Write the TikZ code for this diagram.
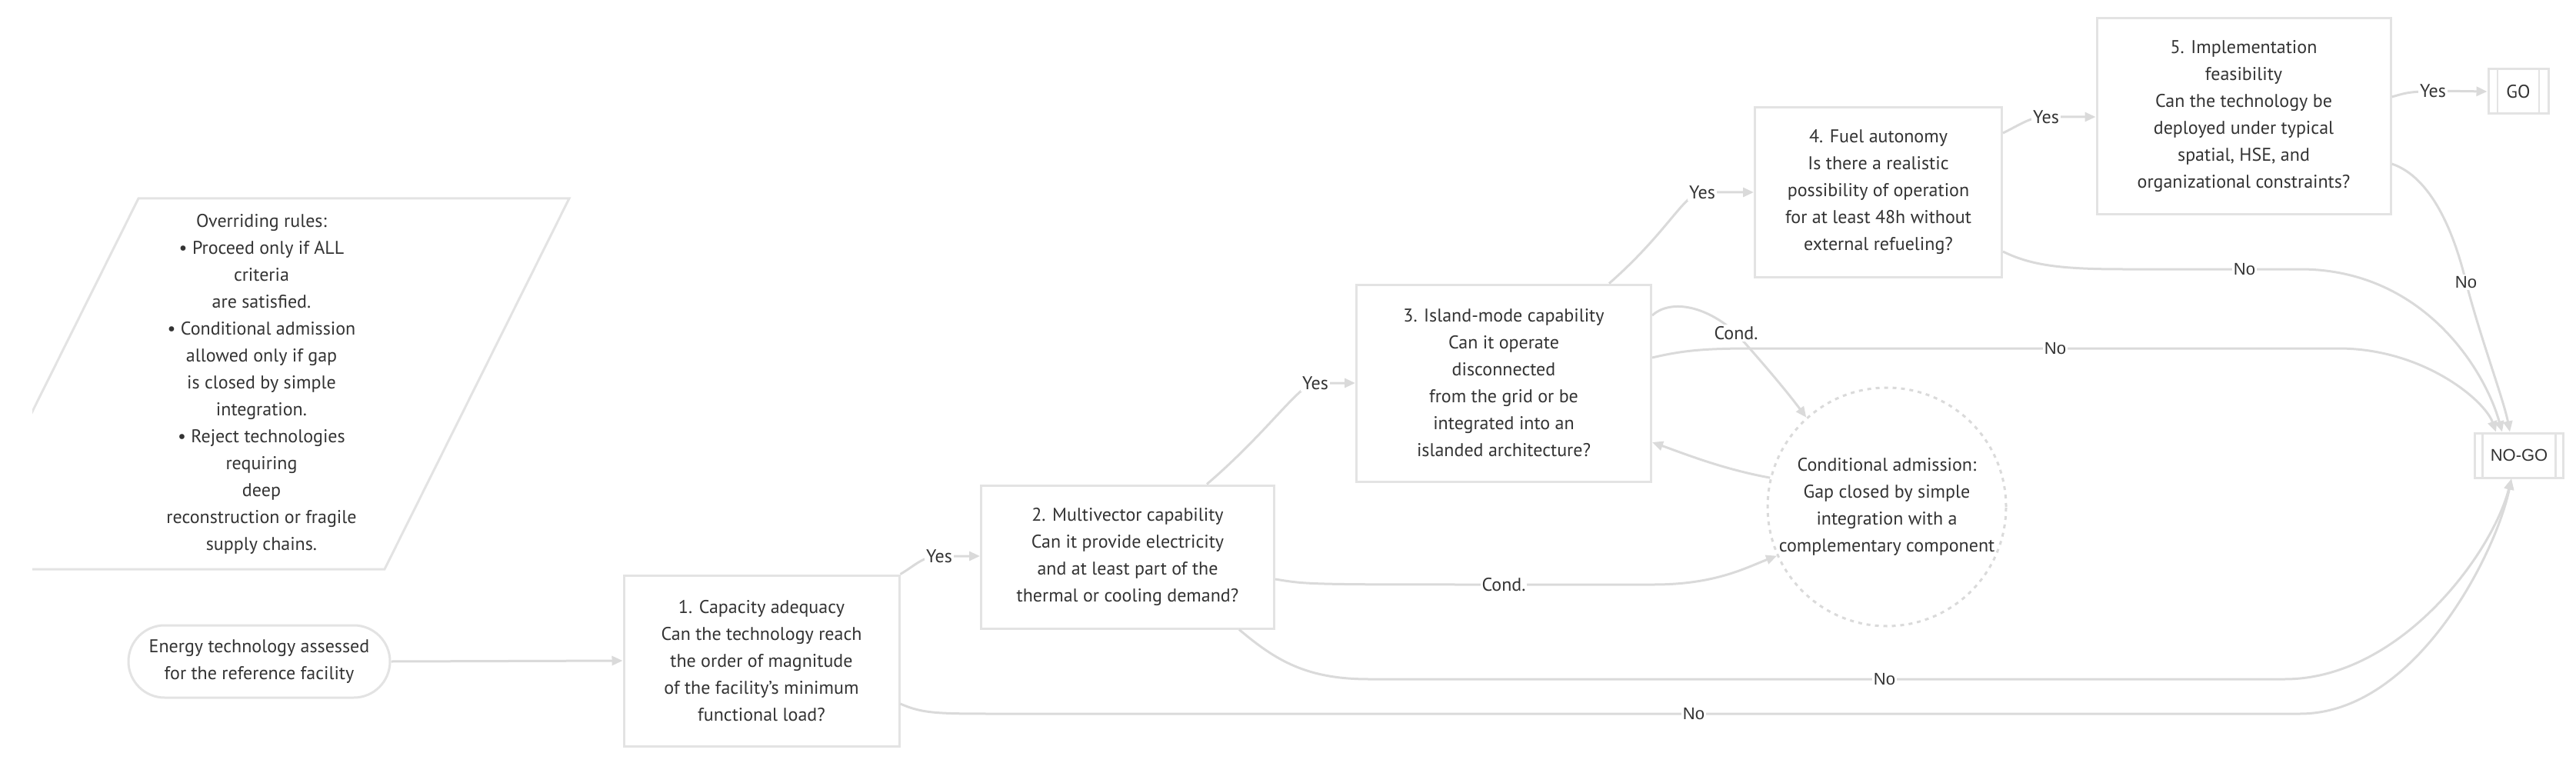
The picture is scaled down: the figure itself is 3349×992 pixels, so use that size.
\documentclass[tikz,border=0pt]{standalone}
\usepackage{fontspec}
\setmainfont{PT Sans}
\newfontfamily\arialfont{Liberation Sans}
\usetikzlibrary{arrows.meta, positioning, calc}
\definecolor{lineGray}{HTML}{DADADA}
\definecolor{boxGray}{HTML}{E3E3E3}
\definecolor{inkGray}{HTML}{333333}

\begin{document}
\begin{tikzpicture}[
  x=1pt, y=-1pt,
  every node/.style={text=inkGray, font=\fontsize{24}{35}\selectfont},
  crit/.style={draw=boxGray, line width=3pt, fill=white, align=center, inner sep=0pt},
  subr/.style={crit, path picture={
    \draw[boxGray, line width=2.5pt]
      ([xshift=#1]path picture bounding box.north west) -- ([xshift=#1]path picture bounding box.south west)
      ([xshift=-#1]path picture bounding box.north east) -- ([xshift=-#1]path picture bounding box.south east);}},
  lab/.style={fill=white, inner sep=2pt},
  nolab/.style={lab, font=\arialfont\fontsize{22}{26}\selectfont},
  arr/.style={draw=lineGray, line width=3pt, -{Triangle[length=14pt, width=12pt]}},
]
\useasboundingbox (0,0) rectangle (3349,992);

% rules (parallelogram, cut at the left)
\begin{scope}
  \clip (42,0) rectangle (3349,992);
  \draw[boxGray, line width=3pt] (180,258) -- (740,258) -- (500,740) -- (-60,740) -- cycle;
\end{scope}
\node[align=center] (rules) at (340,499) {Overriding rules:\\
  • Proceed only if ALL\\criteria\\are satisfied.\\
  • Conditional admission\\allowed only if gap\\is closed by simple\\integration.\\
  • Reject technologies\\requiring\\deep\\reconstruction or fragile\\supply chains.};

% nodes
\node[crit, rounded corners=47, minimum width=340, minimum height=94] (start) at (337,860)
  {Energy technology assessed\\for the reference facility};
\node[crit, minimum width=358, minimum height=222] (box1) at (990,859)
  {1. Capacity adequacy\\Can the technology reach\\the order of magnitude\\of the facility's minimum\\functional load?};
\node[crit, minimum width=381, minimum height=186] (box2) at (1466,724)
  {2. Multivector capability\\Can it provide electricity\\and at least part of the\\thermal or cooling demand?};
\node[crit, minimum width=383, minimum height=256] (box3) at (1955,498)
  {3. Island-mode capability\\Can it operate\\disconnected\\from the grid or be\\integrated into an\\islanded architecture?};
\node[crit, minimum width=321, minimum height=220] (box4) at (2442,250)
  {4. Fuel autonomy\\Is there a realistic\\possibility of operation\\for at least 48h without\\external refueling?};
\node[crit, minimum width=382, minimum height=255] (box5) at (2917,151)
  {5. Implementation\\feasibility\\Can the technology be\\deployed under typical\\spatial, HSE, and\\organizational constraints?};
\node[crit, circle, draw=lineGray, dashed, dash pattern=on 5pt off 6pt, minimum size=310] (cadm) at (2453,659)
  {Conditional admission:\\Gap closed by simple\\integration with a\\complementary component};
\node[subr=12, minimum width=78, minimum height=58] (go) at (3274,119) {GO};
\node[subr=10, minimum width=115, minimum height=58, font=\arialfont\fontsize{22}{26}\selectfont] (nogo) at (3275,592) {NO-GO};

% label points
\coordinate (yes1) at (1221,723);
\coordinate (yes2) at (1710,498);
\coordinate (yes3) at (2213,250);
\coordinate (yes4) at (2660,152);
\coordinate (yes5) at (3163,118);
\coordinate (cond1) at (1955,760);
\coordinate (cond2) at (2257,433);
\coordinate (no1) at (2202,928);
\coordinate (no2) at (2450,883);
\coordinate (no3) at (2672,453);
\coordinate (no4) at (2918,350);
\coordinate (no5) at (3206,367);

% Yes path
\draw[arr] (start.east) -- (box1.west);
\draw[arr] (box1.north east) .. controls (1190,735) and (1200,723) .. (yes1) -- (box2.west |- yes1);
\draw[arr] ([xshift=-89]box2.north east) .. controls (1650,560) and (1690,498) .. (yes2) -- (box3.west |- yes2);
\draw[arr] ([xshift=-56]box3.north east) .. controls (2170,300) and (2190,250) .. (yes3) -- (box4.west |- yes3);
\draw[arr] ([yshift=77]box4.east) .. controls (2630,160) and (2640,152) .. (yes4) -- (box5.west |- yes4);
\draw[arr] ([yshift=25]box5.east) .. controls (3130,120) .. (yes5) -- (go.west);

% conditional branch
\draw[arr] ([yshift=-29]box2.east) .. controls (1700,760) .. (cond1) -- (2150,760) .. controls (2230,760) and (2270,738) .. (cadm.204);
\draw[arr] ([yshift=88]box3.east) .. controls (2170,390) and (2215,395) .. (cond2) .. controls (2290,470) and (2320,505) .. (cadm.132);
\draw[arr] (cadm.166) .. controls (2240,610) and (2190,590) .. ([yshift=-77]box3.east);

% No path
\draw[arr] ([yshift=-56]box1.east) .. controls (1200,928) and (1220,928) .. (1300,928) -- (no1) -- (2990,928)
  .. controls (3140,928) and (3245,720) .. ([xshift=-10]nogo.south);
\draw[arr] ([xshift=-47]box2.south east) .. controls (1660,860) and (1700,883) .. (1780,883) -- (no2) -- (2970,883)
  .. controls (3120,883) and (3240,720) .. ([xshift=-10]nogo.south);
\draw[arr] ([yshift=33]box3.east) .. controls (2190,455) and (2220,453) .. (2280,453) -- (no3) -- (3040,453)
  .. controls (3150,453) and (3230,520) .. ([xshift=-30]nogo.north);
\draw[arr] ([yshift=-77]box4.east) .. controls (2640,345) and (2680,350) .. (2760,350) -- (no4) -- (2990,350)
  .. controls (3150,350) and (3230,480) .. ([xshift=-22]nogo.north);
\draw[arr] ([yshift=-62]box5.east) .. controls (3160,230) and (3190,300) .. (no5)
  .. controls (3225,440) and (3255,520) .. ([xshift=-12]nogo.north);

% labels
\node[lab] (yes1lab) at (yes1) {Yes};
\node[lab] (yes2lab) at (yes2) {Yes};
\node[lab] (yes3lab) at (yes3) {Yes};
\node[lab] (yes4lab) at (yes4) {Yes};
\node[lab] (yes5lab) at (yes5) {Yes};
\node[lab] (cond1lab) at (cond1) {Cond.};
\node[lab] (cond2lab) at (cond2) {Cond.};
\node[nolab] (no1lab) at (no1) {No};
\node[nolab] (no2lab) at (no2) {No};
\node[nolab] (no3lab) at (no3) {No};
\node[nolab] (no4lab) at (no4) {No};
\node[nolab] (no5lab) at (no5) {No};
\end{tikzpicture}
\end{document}
